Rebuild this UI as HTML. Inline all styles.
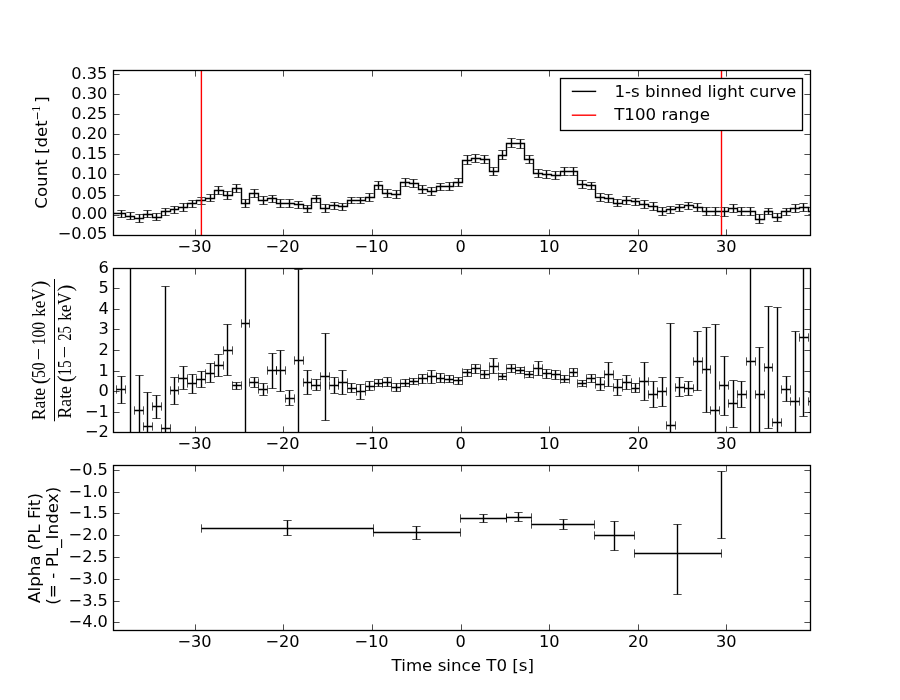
<!DOCTYPE html>
<html lang="en"><head><meta charset="utf-8"><title>Light curve</title>
<style>html,body{margin:0;padding:0;background:#fff}svg{display:block}</style></head>
<body>
<svg width="900" height="700" viewBox="0 0 900 700" font-family="'DejaVu Sans', 'Liberation Sans', sans-serif" font-size="16.67" fill="#000">
<rect width="900" height="700" fill="#fff"/>
<defs>
<clipPath id="c0"><rect x="113.5" y="70.5" width="697.0" height="165.0"/></clipPath>
<clipPath id="c1"><rect x="113.5" y="268.5" width="697.0" height="164.0"/></clipPath>
<clipPath id="c2"><rect x="113.5" y="465.5" width="697.0" height="165.0"/></clipPath>
</defs>
<g clip-path="url(#c0)" fill="none" stroke="#000">
<path d="M111.5 213.5H125.5V216.5H134.5V218.5H143.5V214.5H152.5V217.5H161.5V211.5H170.5V209.5H178.5V207.5H187.5V203.5H196.5V200.5H205.5V198.5H214.5V190.5H223.5V195.5H232.5V188.5H241.5V203.5H249.5V193.5H258.5V200.5H267.5V198.5H276.5V203.5H285.5V203.5H294.5V204.5H303.5V208.5H311.5V198.5H320.5V208.5H329.5V205.5H338.5V206.5H347.5V200.5H356.5V200.5H365.5V197.5H374.5V185.5H382.5V193.5H391.5V194.5H400.5V182.5H409.5V183.5H418.5V189.5H427.5V191.5H436.5V186.5H444.5V186.5H453.5V182.5H462.5V160.5H471.5V158.5H480.5V159.5H489.5V171.5H498.5V155.5H506.5V143.5H515.5V143.5H524.5V159.5H533.5V173.5H542.5V174.5H551.5V175.5H560.5V171.5H569.5V171.5H577.5V184.5H586.5V185.5H595.5V197.5H604.5V198.5H613.5V203.5H622.5V200.5H631.5V201.5H639.5V204.5H648.5V206.5H657.5V211.5H666.5V209.5H675.5V207.5H684.5V205.5H693.5V207.5H702.5V211.5H710.5V211.5H719.5V211.5H728.5V208.5H737.5V211.5H746.5V211.5H755.5V219.5H764.5V211.5H772.5V217.5H781.5V211.5H790.5V208.5H799.5V207.5H808.5V211.5H817.5" stroke-width="1.39" stroke-linejoin="miter"/>
<path d="M121.5 210.5V217.5M130.5 212.5V219.5M139.5 214.5V222.5M147.5 210.5V217.5M156.5 213.5V220.5M165.5 208.5V215.5M174.5 206.5V213.5M183.5 203.5V211.5M192.5 200.5V207.5M201.5 197.5V204.5M210.5 194.5V201.5M218.5 186.5V194.5M227.5 191.5V199.5M236.5 184.5V192.5M245.5 199.5V207.5M254.5 189.5V197.5M263.5 196.5V204.5M272.5 195.5V202.5M280.5 199.5V207.5M289.5 199.5V207.5M298.5 201.5V208.5M307.5 205.5V212.5M316.5 195.5V202.5M325.5 204.5V212.5M334.5 202.5V209.5M342.5 203.5V210.5M351.5 197.5V203.5M360.5 197.5V203.5M369.5 193.5V201.5M378.5 181.5V189.5M387.5 189.5V197.5M396.5 190.5V198.5M405.5 178.5V186.5M413.5 179.5V187.5M422.5 185.5V193.5M431.5 187.5V195.5M440.5 183.5V190.5M449.5 182.5V190.5M458.5 178.5V186.5M467.5 155.5V164.5M475.5 154.5V162.5M484.5 155.5V163.5M493.5 167.5V175.5M502.5 150.5V159.5M511.5 138.5V147.5M520.5 139.5V148.5M529.5 155.5V163.5M538.5 169.5V177.5M546.5 170.5V178.5M555.5 171.5V179.5M564.5 167.5V175.5M573.5 167.5V175.5M582.5 180.5V188.5M591.5 182.5V189.5M600.5 193.5V201.5M608.5 194.5V202.5M617.5 199.5V206.5M626.5 196.5V204.5M635.5 198.5V205.5M644.5 200.5V208.5M653.5 202.5V210.5M662.5 207.5V215.5M670.5 206.5V213.5M679.5 204.5V211.5M688.5 202.5V209.5M697.5 203.5V211.5M706.5 207.5V215.5M715.5 207.5V215.5M724.5 207.5V216.5M733.5 204.5V212.5M741.5 207.5V215.5M750.5 207.5V215.5M759.5 214.5V223.5M768.5 208.5V214.5M777.5 213.5V221.5M786.5 208.5V215.5M795.5 204.5V212.5M803.5 203.5V211.5M812.5 207.5V214.5" stroke-width="1.39"/>
<path d="M117.33 210.5H125.67M117.33 217.5H125.67M126.33 212.5H134.67M126.33 219.5H134.67M135.33 214.5H143.67M135.33 222.5H143.67M143.33 210.5H151.67M143.33 217.5H151.67M152.33 213.5H160.67M152.33 220.5H160.67M161.33 208.5H169.67M161.33 215.5H169.67M170.33 206.5H178.67M170.33 213.5H178.67M179.33 203.5H187.67M179.33 211.5H187.67M188.33 200.5H196.67M188.33 207.5H196.67M197.33 197.5H205.67M197.33 204.5H205.67M206.33 194.5H214.67M206.33 201.5H214.67M214.33 186.5H222.67M214.33 194.5H222.67M223.33 191.5H231.67M223.33 199.5H231.67M232.33 184.5H240.67M232.33 192.5H240.67M241.33 199.5H249.67M241.33 207.5H249.67M250.33 189.5H258.67M250.33 197.5H258.67M259.33 196.5H267.67M259.33 204.5H267.67M268.33 195.5H276.67M268.33 202.5H276.67M276.33 199.5H284.67M276.33 207.5H284.67M285.33 199.5H293.67M285.33 207.5H293.67M294.33 201.5H302.67M294.33 208.5H302.67M303.33 205.5H311.67M303.33 212.5H311.67M312.33 195.5H320.67M312.33 202.5H320.67M321.33 204.5H329.67M321.33 212.5H329.67M330.33 202.5H338.67M330.33 209.5H338.67M338.33 203.5H346.67M338.33 210.5H346.67M347.33 197.5H355.67M347.33 203.5H355.67M356.33 197.5H364.67M356.33 203.5H364.67M365.33 193.5H373.67M365.33 201.5H373.67M374.33 181.5H382.67M374.33 189.5H382.67M383.33 189.5H391.67M383.33 197.5H391.67M392.33 190.5H400.67M392.33 198.5H400.67M401.33 178.5H409.67M401.33 186.5H409.67M409.33 179.5H417.67M409.33 187.5H417.67M418.33 185.5H426.67M418.33 193.5H426.67M427.33 187.5H435.67M427.33 195.5H435.67M436.33 183.5H444.67M436.33 190.5H444.67M445.33 182.5H453.67M445.33 190.5H453.67M454.33 178.5H462.67M454.33 186.5H462.67M463.33 155.5H471.67M463.33 164.5H471.67M471.33 154.5H479.67M471.33 162.5H479.67M480.33 155.5H488.67M480.33 163.5H488.67M489.33 167.5H497.67M489.33 175.5H497.67M498.33 150.5H506.67M498.33 159.5H506.67M507.33 138.5H515.67M507.33 147.5H515.67M516.33 139.5H524.67M516.33 148.5H524.67M525.33 155.5H533.67M525.33 163.5H533.67M534.33 169.5H542.67M534.33 177.5H542.67M542.33 170.5H550.67M542.33 178.5H550.67M551.33 171.5H559.67M551.33 179.5H559.67M560.33 167.5H568.67M560.33 175.5H568.67M569.33 167.5H577.67M569.33 175.5H577.67M578.33 180.5H586.67M578.33 188.5H586.67M587.33 182.5H595.67M587.33 189.5H595.67M596.33 193.5H604.67M596.33 201.5H604.67M604.33 194.5H612.67M604.33 202.5H612.67M613.33 199.5H621.67M613.33 206.5H621.67M622.33 196.5H630.67M622.33 204.5H630.67M631.33 198.5H639.67M631.33 205.5H639.67M640.33 200.5H648.67M640.33 208.5H648.67M649.33 202.5H657.67M649.33 210.5H657.67M658.33 207.5H666.67M658.33 215.5H666.67M666.33 206.5H674.67M666.33 213.5H674.67M675.33 204.5H683.67M675.33 211.5H683.67M684.33 202.5H692.67M684.33 209.5H692.67M693.33 203.5H701.67M693.33 211.5H701.67M702.33 207.5H710.67M702.33 215.5H710.67M711.33 207.5H719.67M711.33 215.5H719.67M720.33 207.5H728.67M720.33 216.5H728.67M729.33 204.5H737.67M729.33 212.5H737.67M737.33 207.5H745.67M737.33 215.5H745.67M746.33 207.5H754.67M746.33 215.5H754.67M755.33 214.5H763.67M755.33 223.5H763.67M764.33 208.5H772.67M764.33 214.5H772.67M773.33 213.5H781.67M773.33 221.5H781.67M782.33 208.5H790.67M782.33 215.5H790.67M791.33 204.5H799.67M791.33 212.5H799.67M799.33 203.5H807.67M799.33 211.5H807.67M808.33 207.5H816.67M808.33 214.5H816.67" stroke-width="0.7"/>
<path d="M201.4 70V236M721.5 70V236" stroke="#f00" stroke-width="1.39"/>
</g>
<g clip-path="url(#c1)" fill="none" stroke="#000">
<path d="M121.5 376.5V403.5M116.5 389.5H125.5M130.5 263.5V437.5M139.5 375.5V437.5M134.5 410.5H143.5M147.5 392.5V437.5M143.5 426.5H152.5M156.5 395.5V418.5M152.5 406.5H161.5M165.5 286.5V437.5M161.5 428.5H170.5M174.5 377.5V404.5M170.5 390.5H178.5M183.5 366.5V389.5M178.5 378.5H187.5M192.5 374.5V393.5M187.5 383.5H196.5M201.5 371.5V387.5M196.5 379.5H205.5M210.5 363.5V382.5M205.5 373.5H214.5M218.5 354.5V376.5M214.5 365.5H223.5M227.5 324.5V375.5M223.5 350.5H232.5M236.5 382.5V389.5M232.5 385.5H241.5M245.5 263.5V437.5M241.5 323.5H249.5M254.5 377.5V387.5M249.5 382.5H258.5M263.5 383.5V395.5M258.5 389.5H267.5M272.5 353.5V388.5M267.5 370.5H276.5M280.5 350.5V391.5M276.5 370.5H285.5M289.5 390.5V405.5M285.5 398.5H294.5M298.5 269.5V437.5M294.5 360.5H303.5M307.5 370.5V394.5M303.5 382.5H311.5M316.5 379.5V390.5M311.5 385.5H320.5M325.5 333.5V420.5M320.5 376.5H329.5M334.5 377.5V393.5M329.5 385.5H338.5M342.5 370.5V394.5M338.5 382.5H347.5M351.5 383.5V392.5M347.5 388.5H356.5M360.5 384.5V399.5M356.5 391.5H365.5M369.5 381.5V390.5M365.5 386.5H374.5M378.5 379.5V386.5M374.5 383.5H382.5M387.5 377.5V386.5M382.5 382.5H391.5M396.5 383.5V391.5M391.5 387.5H400.5M405.5 379.5V386.5M400.5 383.5H409.5M413.5 378.5V384.5M409.5 381.5H418.5M422.5 374.5V383.5M418.5 378.5H427.5M431.5 370.5V383.5M427.5 376.5H436.5M440.5 373.5V382.5M436.5 378.5H444.5M449.5 375.5V382.5M444.5 379.5H453.5M458.5 377.5V384.5M453.5 380.5H462.5M467.5 369.5V376.5M462.5 372.5H471.5M475.5 364.5V373.5M471.5 368.5H480.5M484.5 370.5V378.5M480.5 374.5H489.5M493.5 358.5V373.5M489.5 366.5H498.5M502.5 373.5V379.5M498.5 376.5H506.5M511.5 364.5V372.5M506.5 368.5H515.5M520.5 367.5V373.5M515.5 370.5H524.5M529.5 371.5V377.5M524.5 374.5H533.5M538.5 361.5V375.5M533.5 368.5H542.5M546.5 369.5V378.5M542.5 373.5H551.5M555.5 370.5V379.5M551.5 374.5H560.5M564.5 375.5V382.5M560.5 379.5H569.5M573.5 368.5V376.5M569.5 372.5H577.5M582.5 380.5V386.5M577.5 383.5H586.5M591.5 374.5V382.5M586.5 378.5H595.5M600.5 377.5V390.5M595.5 384.5H604.5M608.5 362.5V386.5M604.5 374.5H613.5M617.5 379.5V395.5M613.5 387.5H622.5M626.5 375.5V389.5M622.5 382.5H631.5M635.5 383.5V392.5M631.5 388.5H639.5M644.5 362.5V400.5M639.5 381.5H648.5M653.5 381.5V407.5M648.5 394.5H657.5M662.5 377.5V406.5M657.5 391.5H666.5M670.5 323.5V437.5M666.5 425.5H675.5M679.5 377.5V396.5M675.5 387.5H684.5M688.5 381.5V395.5M684.5 388.5H693.5M697.5 331.5V390.5M693.5 361.5H702.5M706.5 327.5V412.5M702.5 369.5H710.5M715.5 324.5V437.5M710.5 410.5H719.5M724.5 356.5V415.5M719.5 385.5H728.5M733.5 380.5V427.5M728.5 403.5H737.5M741.5 381.5V407.5M737.5 394.5H746.5M750.5 263.5V437.5M746.5 361.5H755.5M759.5 347.5V437.5M755.5 394.5H764.5M768.5 306.5V428.5M764.5 367.5H772.5M777.5 307.5V437.5M772.5 422.5H781.5M786.5 376.5V401.5M781.5 389.5H790.5M795.5 331.5V437.5M790.5 401.5H799.5M803.5 263.5V416.5M799.5 337.5H808.5M812.5 392.5V412.5M808.5 401.5H817.5" stroke-width="1.39"/>
<path d="M117.33 376.5H125.67M117.33 403.5H125.67M116.5 385.33V393.67M125.5 385.33V393.67M135.33 375.5H143.67M134.5 406.33V414.67M143.5 406.33V414.67M143.33 392.5H151.67M143.5 422.33V430.67M152.5 422.33V430.67M152.33 395.5H160.67M152.33 418.5H160.67M152.5 402.33V410.67M161.5 402.33V410.67M161.33 286.5H169.67M161.5 424.33V432.67M170.5 424.33V432.67M170.33 377.5H178.67M170.33 404.5H178.67M170.5 386.33V394.67M178.5 386.33V394.67M179.33 366.5H187.67M179.33 389.5H187.67M178.5 374.33V382.67M187.5 374.33V382.67M188.33 374.5H196.67M188.33 393.5H196.67M187.5 379.33V387.67M196.5 379.33V387.67M197.33 371.5H205.67M197.33 387.5H205.67M196.5 375.33V383.67M205.5 375.33V383.67M206.33 363.5H214.67M206.33 382.5H214.67M205.5 369.33V377.67M214.5 369.33V377.67M214.33 354.5H222.67M214.33 376.5H222.67M214.5 361.33V369.67M223.5 361.33V369.67M223.33 324.5H231.67M223.33 375.5H231.67M223.5 346.33V354.67M232.5 346.33V354.67M232.33 382.5H240.67M232.33 389.5H240.67M232.5 381.33V389.67M241.5 381.33V389.67M241.5 319.33V327.67M249.5 319.33V327.67M250.33 377.5H258.67M250.33 387.5H258.67M249.5 378.33V386.67M258.5 378.33V386.67M259.33 383.5H267.67M259.33 395.5H267.67M258.5 385.33V393.67M267.5 385.33V393.67M268.33 353.5H276.67M268.33 388.5H276.67M267.5 366.33V374.67M276.5 366.33V374.67M276.33 350.5H284.67M276.33 391.5H284.67M276.5 366.33V374.67M285.5 366.33V374.67M285.33 390.5H293.67M285.33 405.5H293.67M285.5 394.33V402.67M294.5 394.33V402.67M294.33 269.5H302.67M294.5 356.33V364.67M303.5 356.33V364.67M303.33 370.5H311.67M303.33 394.5H311.67M303.5 378.33V386.67M311.5 378.33V386.67M312.33 379.5H320.67M312.33 390.5H320.67M311.5 381.33V389.67M320.5 381.33V389.67M321.33 333.5H329.67M321.33 420.5H329.67M320.5 372.33V380.67M329.5 372.33V380.67M330.33 377.5H338.67M330.33 393.5H338.67M329.5 381.33V389.67M338.5 381.33V389.67M338.33 370.5H346.67M338.33 394.5H346.67M338.5 378.33V386.67M347.5 378.33V386.67M347.33 383.5H355.67M347.33 392.5H355.67M347.5 384.33V392.67M356.5 384.33V392.67M356.33 384.5H364.67M356.33 399.5H364.67M356.5 387.33V395.67M365.5 387.33V395.67M365.33 381.5H373.67M365.33 390.5H373.67M365.5 382.33V390.67M374.5 382.33V390.67M374.33 379.5H382.67M374.33 386.5H382.67M374.5 379.33V387.67M382.5 379.33V387.67M383.33 377.5H391.67M383.33 386.5H391.67M382.5 378.33V386.67M391.5 378.33V386.67M392.33 383.5H400.67M392.33 391.5H400.67M391.5 383.33V391.67M400.5 383.33V391.67M401.33 379.5H409.67M401.33 386.5H409.67M400.5 379.33V387.67M409.5 379.33V387.67M409.33 378.5H417.67M409.33 384.5H417.67M409.5 377.33V385.67M418.5 377.33V385.67M418.33 374.5H426.67M418.33 383.5H426.67M418.5 374.33V382.67M427.5 374.33V382.67M427.33 370.5H435.67M427.33 383.5H435.67M427.5 372.33V380.67M436.5 372.33V380.67M436.33 373.5H444.67M436.33 382.5H444.67M436.5 374.33V382.67M444.5 374.33V382.67M445.33 375.5H453.67M445.33 382.5H453.67M444.5 375.33V383.67M453.5 375.33V383.67M454.33 377.5H462.67M454.33 384.5H462.67M453.5 376.33V384.67M462.5 376.33V384.67M463.33 369.5H471.67M463.33 376.5H471.67M462.5 368.33V376.67M471.5 368.33V376.67M471.33 364.5H479.67M471.33 373.5H479.67M471.5 364.33V372.67M480.5 364.33V372.67M480.33 370.5H488.67M480.33 378.5H488.67M480.5 370.33V378.67M489.5 370.33V378.67M489.33 358.5H497.67M489.33 373.5H497.67M489.5 362.33V370.67M498.5 362.33V370.67M498.33 373.5H506.67M498.33 379.5H506.67M498.5 372.33V380.67M506.5 372.33V380.67M507.33 364.5H515.67M507.33 372.5H515.67M506.5 364.33V372.67M515.5 364.33V372.67M516.33 367.5H524.67M516.33 373.5H524.67M515.5 366.33V374.67M524.5 366.33V374.67M525.33 371.5H533.67M525.33 377.5H533.67M524.5 370.33V378.67M533.5 370.33V378.67M534.33 361.5H542.67M534.33 375.5H542.67M533.5 364.33V372.67M542.5 364.33V372.67M542.33 369.5H550.67M542.33 378.5H550.67M542.5 369.33V377.67M551.5 369.33V377.67M551.33 370.5H559.67M551.33 379.5H559.67M551.5 370.33V378.67M560.5 370.33V378.67M560.33 375.5H568.67M560.33 382.5H568.67M560.5 375.33V383.67M569.5 375.33V383.67M569.33 368.5H577.67M569.33 376.5H577.67M569.5 368.33V376.67M577.5 368.33V376.67M578.33 380.5H586.67M578.33 386.5H586.67M577.5 379.33V387.67M586.5 379.33V387.67M587.33 374.5H595.67M587.33 382.5H595.67M586.5 374.33V382.67M595.5 374.33V382.67M596.33 377.5H604.67M596.33 390.5H604.67M595.5 380.33V388.67M604.5 380.33V388.67M604.33 362.5H612.67M604.33 386.5H612.67M604.5 370.33V378.67M613.5 370.33V378.67M613.33 379.5H621.67M613.33 395.5H621.67M613.5 383.33V391.67M622.5 383.33V391.67M622.33 375.5H630.67M622.33 389.5H630.67M622.5 378.33V386.67M631.5 378.33V386.67M631.33 383.5H639.67M631.33 392.5H639.67M631.5 384.33V392.67M639.5 384.33V392.67M640.33 362.5H648.67M640.33 400.5H648.67M639.5 377.33V385.67M648.5 377.33V385.67M649.33 381.5H657.67M649.33 407.5H657.67M648.5 390.33V398.67M657.5 390.33V398.67M658.33 377.5H666.67M658.33 406.5H666.67M657.5 387.33V395.67M666.5 387.33V395.67M666.33 323.5H674.67M666.5 421.33V429.67M675.5 421.33V429.67M675.33 377.5H683.67M675.33 396.5H683.67M675.5 383.33V391.67M684.5 383.33V391.67M684.33 381.5H692.67M684.33 395.5H692.67M684.5 384.33V392.67M693.5 384.33V392.67M693.33 331.5H701.67M693.33 390.5H701.67M693.5 357.33V365.67M702.5 357.33V365.67M702.33 327.5H710.67M702.33 412.5H710.67M702.5 365.33V373.67M710.5 365.33V373.67M711.33 324.5H719.67M710.5 406.33V414.67M719.5 406.33V414.67M720.33 356.5H728.67M720.33 415.5H728.67M719.5 381.33V389.67M728.5 381.33V389.67M729.33 380.5H737.67M729.33 427.5H737.67M728.5 399.33V407.67M737.5 399.33V407.67M737.33 381.5H745.67M737.33 407.5H745.67M737.5 390.33V398.67M746.5 390.33V398.67M746.5 357.33V365.67M755.5 357.33V365.67M755.33 347.5H763.67M755.5 390.33V398.67M764.5 390.33V398.67M764.33 306.5H772.67M764.33 428.5H772.67M764.5 363.33V371.67M772.5 363.33V371.67M773.33 307.5H781.67M772.5 418.33V426.67M781.5 418.33V426.67M782.33 376.5H790.67M782.33 401.5H790.67M781.5 385.33V393.67M790.5 385.33V393.67M791.33 331.5H799.67M790.5 397.33V405.67M799.5 397.33V405.67M799.33 416.5H807.67M799.5 333.33V341.67M808.5 333.33V341.67M808.33 392.5H816.67M808.33 412.5H816.67M808.5 397.33V405.67M817.5 397.33V405.67" stroke-width="0.7"/>
</g>
<g clip-path="url(#c2)" fill="none" stroke="#000">
<path d="M287.5 520.5V535.5M201.5 528.5H373.5M416.5 526.5V539.5M373.5 532.5H460.5M483.5 514.5V522.5M460.5 518.5H506.5M518.5 512.5V521.5M506.5 517.5H531.5M563.5 519.5V529.5M531.5 524.5H594.5M614.5 521.5V550.5M594.5 535.5H634.5M677.5 524.5V594.5M634.5 553.5H721.5M721.5 471.5V538.5" stroke-width="1.39"/>
<path d="M283.33 520.5H291.67M283.33 535.5H291.67M201.5 524.33V532.67M373.5 524.33V532.67M412.33 526.5H420.67M412.33 539.5H420.67M373.5 528.33V536.67M460.5 528.33V536.67M479.33 514.5H487.67M479.33 522.5H487.67M460.5 514.33V522.67M506.5 514.33V522.67M514.33 512.5H522.67M514.33 521.5H522.67M506.5 513.33V521.67M531.5 513.33V521.67M559.33 519.5H567.67M559.33 529.5H567.67M531.5 520.33V528.67M594.5 520.33V528.67M610.33 521.5H618.67M610.33 550.5H618.67M594.5 531.33V539.67M634.5 531.33V539.67M673.33 524.5H681.67M673.33 594.5H681.67M634.5 549.33V557.67M721.5 549.33V557.67M717.33 471.5H725.67M717.33 538.5H725.67" stroke-width="0.7"/>
</g>
<path d="M195.5 235.5v-6.1M195.5 70.5v6.1M283.5 235.5v-6.1M283.5 70.5v6.1M372.5 235.5v-6.1M372.5 70.5v6.1M461.5 235.5v-6.1M461.5 70.5v6.1M549.5 235.5v-6.1M549.5 70.5v6.1M638.5 235.5v-6.1M638.5 70.5v6.1M726.5 235.5v-6.1M726.5 70.5v6.1M113.5 74.5h6.1M810.5 74.5h-6.1M113.5 94.5h6.1M810.5 94.5h-6.1M113.5 114.5h6.1M810.5 114.5h-6.1M113.5 134.5h6.1M810.5 134.5h-6.1M113.5 154.5h6.1M810.5 154.5h-6.1M113.5 174.5h6.1M810.5 174.5h-6.1M113.5 195.5h6.1M810.5 195.5h-6.1M113.5 215.5h6.1M810.5 215.5h-6.1M113.5 235.5h6.1M810.5 235.5h-6.1" fill="none" stroke="#000" stroke-width="0.7"/>
<rect x="113.5" y="70.5" width="697.0" height="165.0" fill="none" stroke="#000" stroke-width="1.3"/>
<g text-anchor="middle" font-size="16.2">
<text x="194.6" y="252">−30</text>
<text x="282.6" y="252">−20</text>
<text x="371.6" y="252">−10</text>
<text x="460.6" y="252">0</text>
<text x="549.2" y="252">10</text>
<text x="638.2" y="252">20</text>
<text x="726.2" y="252">30</text>
</g>
<g text-anchor="end" font-size="16.2">
<text x="107.3" y="78.7">0.35</text>
<text x="107.3" y="98.7">0.30</text>
<text x="107.3" y="118.7">0.25</text>
<text x="107.3" y="138.7">0.20</text>
<text x="107.3" y="158.7">0.15</text>
<text x="107.3" y="178.7">0.10</text>
<text x="107.3" y="199">0.05</text>
<text x="107.3" y="219">0.00</text>
<text x="107.3" y="239">−0.05</text>
</g>
<path d="M195.5 432.5v-6.1M195.5 268.5v6.1M283.5 432.5v-6.1M283.5 268.5v6.1M372.5 432.5v-6.1M372.5 268.5v6.1M461.5 432.5v-6.1M461.5 268.5v6.1M549.5 432.5v-6.1M549.5 268.5v6.1M638.5 432.5v-6.1M638.5 268.5v6.1M726.5 432.5v-6.1M726.5 268.5v6.1M113.5 268.5h6.1M810.5 268.5h-6.1M113.5 288.5h6.1M810.5 288.5h-6.1M113.5 309.5h6.1M810.5 309.5h-6.1M113.5 329.5h6.1M810.5 329.5h-6.1M113.5 350.5h6.1M810.5 350.5h-6.1M113.5 371.5h6.1M810.5 371.5h-6.1M113.5 391.5h6.1M810.5 391.5h-6.1M113.5 412.5h6.1M810.5 412.5h-6.1M113.5 432.5h6.1M810.5 432.5h-6.1" fill="none" stroke="#000" stroke-width="0.7"/>
<rect x="113.5" y="268.5" width="697.0" height="164.0" fill="none" stroke="#000" stroke-width="1.3"/>
<g text-anchor="middle" font-size="16.2">
<text x="194.6" y="449">−30</text>
<text x="282.6" y="449">−20</text>
<text x="371.6" y="449">−10</text>
<text x="460.6" y="449">0</text>
<text x="549.2" y="449">10</text>
<text x="638.2" y="449">20</text>
<text x="726.2" y="449">30</text>
</g>
<g text-anchor="end" font-size="16.2">
<text x="108.8" y="272.9">6</text>
<text x="108.8" y="292.9">5</text>
<text x="108.8" y="313.9">4</text>
<text x="108.8" y="333.9">3</text>
<text x="108.8" y="354.9">2</text>
<text x="108.8" y="375.9">1</text>
<text x="108.8" y="395.9">0</text>
<text x="108.8" y="416.9">−1</text>
<text x="108.8" y="436.9">−2</text>
</g>
<path d="M195.5 630.5v-6.1M195.5 465.5v6.1M283.5 630.5v-6.1M283.5 465.5v6.1M372.5 630.5v-6.1M372.5 465.5v6.1M461.5 630.5v-6.1M461.5 465.5v6.1M549.5 630.5v-6.1M549.5 465.5v6.1M638.5 630.5v-6.1M638.5 465.5v6.1M726.5 630.5v-6.1M726.5 465.5v6.1M113.5 470.5h6.1M810.5 470.5h-6.1M113.5 492.5h6.1M810.5 492.5h-6.1M113.5 513.5h6.1M810.5 513.5h-6.1M113.5 535.5h6.1M810.5 535.5h-6.1M113.5 557.5h6.1M810.5 557.5h-6.1M113.5 579.5h6.1M810.5 579.5h-6.1M113.5 601.5h6.1M810.5 601.5h-6.1M113.5 622.5h6.1M810.5 622.5h-6.1" fill="none" stroke="#000" stroke-width="0.7"/>
<rect x="113.5" y="465.5" width="697.0" height="165.0" fill="none" stroke="#000" stroke-width="1.3"/>
<g text-anchor="middle" font-size="16.2">
<text x="194.6" y="647.2">−30</text>
<text x="282.6" y="647.2">−20</text>
<text x="371.6" y="647.2">−10</text>
<text x="460.6" y="647.2">0</text>
<text x="549.2" y="647.2">10</text>
<text x="638.2" y="647.2">20</text>
<text x="726.2" y="647.2">30</text>
</g>
<g text-anchor="end" font-size="16.2">
<text x="107.9" y="474.8">−0.5</text>
<text x="107.9" y="496.8">−1.0</text>
<text x="107.9" y="517.8">−1.5</text>
<text x="107.9" y="539.8">−2.0</text>
<text x="107.9" y="561.8">−2.5</text>
<text x="107.9" y="583.8">−3.0</text>
<text x="107.9" y="605.8">−3.5</text>
<text x="107.9" y="626.8">−4.0</text>
</g>
<rect x="560.5" y="78.5" width="242" height="52" fill="#fff" stroke="#000" stroke-width="1.3"/>
<path d="M571.8 91.4H596.2" stroke="#000" stroke-width="1.39"/>
<path d="M571.8 115.2H596.2" stroke="#f00" stroke-width="1.39"/>
<text x="614.4" y="97">1-s binned light curve</text>
<text x="614.2" y="119.9">T100 range</text>
<text x="462.8" y="670.7" text-anchor="middle">Time since T0 [s]</text>
<text transform="translate(47.2 152.5) rotate(-90)" text-anchor="middle">Count [det<tspan font-size="11" dy="-6.2" dx="-0.3">−</tspan><tspan font-family="'Liberation Serif', serif" font-size="12" dx="-0.5" dy="-1">1</tspan><tspan dy="7.2" dx="3">]</tspan></text>
<g font-family="'Liberation Serif', serif" transform="translate(45.2 419.9) rotate(-90)">
<text x="-0.3" y="0" font-size="19" textLength="32.3" lengthAdjust="spacingAndGlyphs">Rate</text>
<text x="35.7" y="0.7" font-size="20" textLength="6.8" lengthAdjust="spacingAndGlyphs">(</text>
<text x="41.9" y="0" font-size="19" textLength="15.7" lengthAdjust="spacingAndGlyphs">50</text>
<text x="59.6" y="0" font-size="19" textLength="12.4" lengthAdjust="spacingAndGlyphs">−</text>
<text x="74.6" y="0" font-size="19" textLength="23.3" lengthAdjust="spacingAndGlyphs">100</text>
<text x="103.1" y="0" font-size="19" textLength="28.4" lengthAdjust="spacingAndGlyphs">keV</text>
<text x="132.3" y="0.7" font-size="20" textLength="6.8" lengthAdjust="spacingAndGlyphs">)</text>
</g>
<g font-family="'Liberation Serif', serif" transform="translate(71.4 418.1) rotate(-90)">
<text x="-0.3" y="0" font-size="19" textLength="32.3" lengthAdjust="spacingAndGlyphs">Rate</text>
<text x="35.9" y="0.7" font-size="20" textLength="6.8" lengthAdjust="spacingAndGlyphs">(</text>
<text x="42.3" y="0" font-size="19" textLength="15.4" lengthAdjust="spacingAndGlyphs">15</text>
<text x="59.9" y="0" font-size="19" textLength="12.4" lengthAdjust="spacingAndGlyphs">−</text>
<text x="77.3" y="0" font-size="19" textLength="14.6" lengthAdjust="spacingAndGlyphs">25</text>
<text x="97.3" y="0" font-size="19" textLength="28.4" lengthAdjust="spacingAndGlyphs">keV</text>
<text x="126.5" y="0.7" font-size="20" textLength="6.8" lengthAdjust="spacingAndGlyphs">)</text>
</g>
<path d="M54.5 279V421.3" stroke="#000" stroke-width="1"/>
<text transform="translate(39.6 548) rotate(-90)" text-anchor="middle">Alpha (PL Fit)</text>
<text transform="translate(58 545.7) rotate(-90)" text-anchor="middle" letter-spacing="0.075">(= - PL_Index)</text>
</svg>
</body></html>
